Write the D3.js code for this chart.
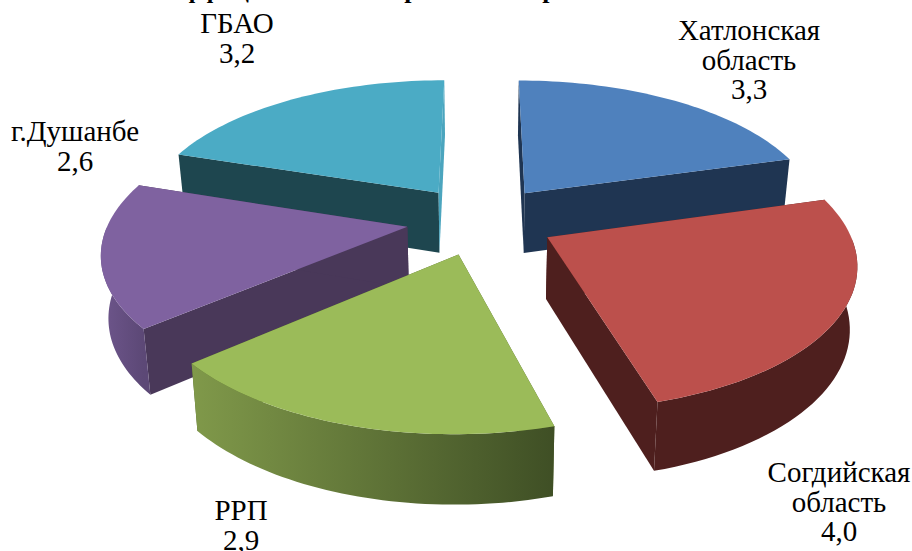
<!DOCTYPE html>
<html><head><meta charset="utf-8">
<style>html,body{margin:0;background:#fff}svg{display:block}</style>
<script src="https://cdn.jsdelivr.net/npm/d3@7/dist/d3.min.js"></script></head>
<body><svg id="c" width="912" height="551"></svg>
<script>
const categories = ["Хатлонская область","Согдийская область","РРП","г.Душанбе","ГБАО"];
const values = [3.3,4.0,2.9,2.6,3.2];
const labelLines = [["Хатлонская","область","3,3"],["Согдийская","область","4,0"],["РРП","2,9"],["г.Душанбе","2,6"],["ГБАО","3,2"]];
const labelPos = [[749,40],[839,482],[241,520],[75,141],[237,33]];
const chartTitle = "Коэффициент семей в регионах страны";
const topColors = ["#4F81BD","#BC504C","#9BBB59","#7F62A0","#4BABC5"];
const faceColors = ["#1F3552","#4E1F1E","#4F6329","#493859","#1E464F"];
const sliverColors = ["#1F3552","#4E1F1E","#4F6329","#493859","#4BA5BE"];
const rimStops = [["#1F3552","#1F3552"],["#4E1F1E","#4E1F1E"],["#80994A","#3F4F25"],["#6E568C","#5C4876"],["#1E464F","#1E464F"]];
const drawOrder = [4,0,3,1,2];
const serif = '"Liberation Serif","Times New Roman",serif';

const svg = d3.select("#c");
const cx=481, cy=220, Rx=298, Ry=138.6, k=0.16, explode=0.25, baseScale=0.98;
const toX = d3.scaleLinear().domain([0,1]).range([0,Rx]);
const toY = d3.scaleLinear().domain([0,1]).range([0,-Ry]);
const project = (u,v,base)=>{
  const w=1+k*v;
  const s=base?baseScale:1;
  return [cx+toX(u)/w*s, cy+toY(v)/w+(base?23+38/w:0)];
};
const arcs = d3.pie().sort(null)(values);
const line = d3.line();
const defs = svg.append("defs");

svg.append("text").attr("x",141).attr("y",-2).attr("font-family",serif)
  .attr("font-size",26).attr("font-weight",700).attr("fill","#000").text(chartTitle);

function slice(i){
  const a=arcs[i], mid=(a.startAngle+a.endAngle)/2;
  const ox=explode*Math.sin(mid), oy=explode*Math.cos(mid);
  const angles=d3.range(0,49).map(t=>a.startAngle+(a.endAngle-a.startAngle)*t/48);
  const rimT=angles.map(t=>project(ox+Math.sin(t),oy+Math.cos(t),false));
  const rimB=angles.map(t=>project(ox+Math.sin(t),oy+Math.cos(t),true));
  const apexT=project(ox,oy,false), apexB=project(ox,oy,true);
  const front=angles.map((t,j)=>Math.cos(t)<0?j:-1).filter(j=>j>=0);
  const G=svg.append("g");
  const n=rimT.length-1;
  G.append("path").attr("d",line([apexT,rimT[0],rimB[0],apexB])+"Z").attr("fill",i===4?faceColors[i]:sliverColors[i]);
  G.append("path").attr("d",line([apexT,rimT[n],rimB[n],apexB])+"Z").attr("fill",i===4?sliverColors[i]:faceColors[i]);
  if(front.length>1){
    const ft=front.map(j=>rimT[j]), fb=front.map(j=>rimB[j]);
    const xs=ft.map(p=>p[0]);
    const id="rim"+i;
    const g=defs.append("linearGradient").attr("id",id).attr("gradientUnits","userSpaceOnUse")
      .attr("x1",d3.min(xs)).attr("x2",d3.max(xs)).attr("y1",0).attr("y2",0);
    g.append("stop").attr("offset",0).attr("stop-color",rimStops[i][0]);
    g.append("stop").attr("offset",1).attr("stop-color",rimStops[i][1]);
    G.append("path").attr("d",line(ft.concat(fb.slice().reverse()))+"Z").attr("fill",`url(#${id})`);
  }
  G.append("path").attr("d",line([apexT,...rimT])+"Z").attr("fill",topColors[i]);
}
drawOrder.forEach(slice);

labelLines.forEach((ls,i)=>{
  const t=svg.append("text").attr("text-anchor","middle").attr("font-family",serif).attr("font-size",29).attr("fill","#000");
  ls.forEach((s,j)=>t.append("tspan").attr("x",labelPos[i][0]).attr("y",labelPos[i][1]+j*29.5).text(s));
});
</script></body></html>
